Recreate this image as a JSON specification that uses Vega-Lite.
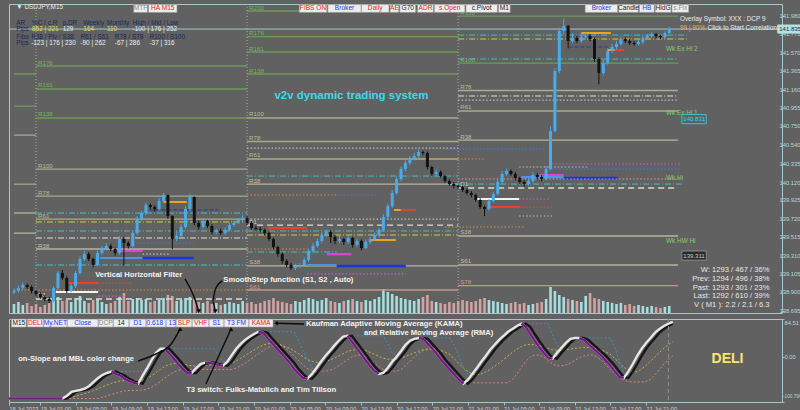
{
"$schema":"https://vega.github.io/schema/vega-lite/v6.json",
"background":"#616161",
"padding":{"left":3,"top":3,"right":0,"bottom":0},
"spacing":1,
"config":{"view":{"stroke":"#a6c8cc","strokeWidth":1},"font":"Liberation Sans","legend":{"disable":true},"axis":{"grid":false,"domain":false,"labelOverlap":false,"labelFont":"Liberation Sans","labelColor":"#c6d6d6","tickColor":"#9cc4c8"}},
"resolve":{"scale":{"x":"independent","y":"independent","color":"independent"}},
"datasets":{
"bars":[
{"t":"2023-07-18T21:30","o":138.9,"hi":138.94,"lo":138.88,"c":138.916,"v":9,"w":-93,"k":-93,"pu":-93,"bl":-93,"yl":-93,"pk":-93},
{"t":"2023-07-18T22:00","o":138.916,"hi":138.98,"lo":138.9,"c":138.95,"v":11,"w":-93,"k":-93,"pu":-93,"bl":-93,"yl":-93,"pk":-93},
{"t":"2023-07-18T22:30","o":138.95,"hi":139.01,"lo":138.93,"c":138.983,"v":8,"w":-93,"k":-93,"pu":-93,"bl":-93,"yl":-93,"pk":-93},
{"t":"2023-07-18T23:00","o":138.983,"hi":139.0,"lo":138.94,"c":138.961,"v":10,"w":-93,"k":-93,"pu":-93,"bl":-93,"yl":-93,"pk":-93},
{"t":"2023-07-18T23:30","o":138.961,"hi":138.98,"lo":138.89,"c":138.916,"v":7,"w":-93,"k":-93,"pu":-93,"bl":-93,"yl":-93,"pk":-93},
{"t":"2023-07-19T00:00","o":138.916,"hi":138.93,"lo":138.86,"c":138.883,"v":9,"w":-93,"k":-93,"pu":-93,"bl":-93,"yl":-93,"pk":-93},
{"t":"2023-07-19T00:30","o":138.883,"hi":138.9,"lo":138.83,"c":138.849,"v":6,"w":-93,"k":-93,"pu":-93,"bl":-93,"yl":-93,"pk":-93},
{"t":"2023-07-19T01:00","o":138.849,"hi":138.87,"lo":138.8,"c":138.827,"v":8,"w":-93,"k":-93,"pu":-93,"bl":-93,"yl":-93,"pk":-93},
{"t":"2023-07-19T01:30","o":138.827,"hi":138.85,"lo":138.78,"c":138.805,"v":10,"w":-93,"k":-93,"pu":-93,"bl":-93,"yl":-93,"pk":-93},
{"t":"2023-07-19T02:00","o":138.805,"hi":138.97,"lo":138.79,"c":138.95,"v":14,"w":-93,"k":-93,"pu":-93,"bl":-93,"yl":-93,"pk":-93},
{"t":"2023-07-19T02:30","o":138.95,"hi":139.14,"lo":138.93,"c":139.117,"v":16,"w":-93,"k":-93,"pu":-93,"bl":-93,"yl":-93,"pk":-93},
{"t":"2023-07-19T03:00","o":139.117,"hi":139.15,"lo":139.04,"c":139.061,"v":12,"w":-93,"k":-93,"pu":-93,"bl":-93,"yl":-93,"pk":-93},
{"t":"2023-07-19T03:30","o":139.061,"hi":139.08,"lo":138.89,"c":138.916,"v":13,"w":-93,"k":-93,"pu":-93,"bl":-93,"yl":-93,"pk":-93},
{"t":"2023-07-19T04:00","o":138.916,"hi":139.0,"lo":138.9,"c":138.972,"v":11,"w":-87,"k":-93,"bl":-87,"yl":-92,"pk":-93},
{"t":"2023-07-19T04:30","o":138.972,"hi":139.14,"lo":138.95,"c":139.117,"v":15,"w":-78,"k":-87,"bl":-78,"yl":-90,"pk":-93},
{"t":"2023-07-19T05:00","o":139.117,"hi":139.3,"lo":139.1,"c":139.273,"v":17,"w":-76,"k":-78,"bl":-76,"yl":-88,"pk":-93},
{"t":"2023-07-19T05:30","o":139.273,"hi":139.36,"lo":139.25,"c":139.328,"v":12,"w":-74,"k":-76,"bl":-74,"yl":-85,"pk":-93},
{"t":"2023-07-19T06:00","o":139.328,"hi":139.35,"lo":139.25,"c":139.273,"v":10,"w":-71,"k":-74,"bl":-71,"yl":-82,"pk":-93},
{"t":"2023-07-19T06:30","o":139.273,"hi":139.29,"lo":139.18,"c":139.206,"v":13,"w":-65,"k":-71,"bl":-65,"yl":-79,"pk":-93},
{"t":"2023-07-19T07:00","o":139.206,"hi":139.37,"lo":139.19,"c":139.34,"v":14,"w":-56,"k":-65,"bl":-56,"yl":-75,"pk":-93},
{"t":"2023-07-19T07:30","o":139.34,"hi":139.42,"lo":139.32,"c":139.395,"v":11,"w":-47,"k":-56,"bl":-47,"yl":-71,"pk":-93},
{"t":"2023-07-19T08:00","o":139.395,"hi":139.45,"lo":139.37,"c":139.418,"v":9,"w":-40,"k":-47,"bl":-40,"yl":-67,"pk":-90},
{"t":"2023-07-19T08:30","o":139.418,"hi":139.44,"lo":139.36,"c":139.384,"v":10,"w":-36,"k":-40,"bl":-36,"yl":-63,"pk":-87},
{"t":"2023-07-19T09:00","o":139.384,"hi":139.4,"lo":139.31,"c":139.34,"v":12,"w":-33,"k":-36,"pu":-33,"bl":-33,"yl":-59,"pk":-84},
{"t":"2023-07-19T09:30","o":139.34,"hi":139.53,"lo":139.32,"c":139.495,"v":16,"w":-38,"k":-33,"pu":-38,"bl":-33,"yl":-56,"pk":-81},
{"t":"2023-07-19T10:00","o":139.495,"hi":139.52,"lo":139.2,"c":139.451,"v":20,"w":-42,"k":-38,"pu":-42,"bl":-33,"yl":-54,"pk":-78},
{"t":"2023-07-19T10:30","o":139.451,"hi":139.47,"lo":139.39,"c":139.418,"v":12,"w":-49,"k":-42,"pu":-49,"bl":-33,"yl":-53,"pk":-76},
{"t":"2023-07-19T11:00","o":139.418,"hi":139.59,"lo":139.4,"c":139.562,"v":14,"w":-54,"k":-49,"pu":-54,"bl":-33,"yl":-53,"pk":-75},
{"t":"2023-07-19T11:30","o":139.562,"hi":139.75,"lo":139.54,"c":139.718,"v":15,"w":-58,"k":-54,"pu":-58,"bl":-33,"yl":-53,"pk":-75},
{"t":"2023-07-19T12:00","o":139.718,"hi":139.81,"lo":139.7,"c":139.785,"v":13,"w":-60,"k":-58,"pu":-60,"bl":-33,"yl":-54,"pk":-75},
{"t":"2023-07-19T12:30","o":139.785,"hi":139.9,"lo":139.76,"c":139.874,"v":14,"w":-42,"k":-60,"bl":-33,"yl":-52,"pk":-74},
{"t":"2023-07-19T13:00","o":139.874,"hi":139.89,"lo":139.83,"c":139.852,"v":11,"w":-25,"k":-42,"bl":-25,"yl":-48,"pk":-72},
{"t":"2023-07-19T13:30","o":139.852,"hi":139.87,"lo":139.8,"c":139.83,"v":12,"w":-7,"k":-25,"bl":-7,"yl":-42,"pk":-68},
{"t":"2023-07-19T14:00","o":139.83,"hi":139.95,"lo":139.81,"c":139.919,"v":13,"w":9,"k":-7,"bl":9,"yl":-35,"pk":-62},
{"t":"2023-07-19T14:30","o":139.919,"hi":140.01,"lo":139.9,"c":139.986,"v":15,"w":18,"k":9,"bl":18,"yl":-28,"pk":-55},
{"t":"2023-07-19T15:00","o":139.986,"hi":139.99,"lo":139.72,"c":139.752,"v":18,"w":18,"k":18,"pu":18,"bl":18,"yl":-21,"pk":-47},
{"t":"2023-07-19T15:30","o":139.752,"hi":139.76,"lo":139.38,"c":139.495,"v":17,"w":7,"k":18,"pu":7,"bl":18,"yl":-17,"pk":-40},
{"t":"2023-07-19T16:00","o":139.495,"hi":139.58,"lo":139.47,"c":139.529,"v":12,"w":-4,"k":7,"pu":-4,"bl":18,"yl":-15,"pk":-34},
{"t":"2023-07-19T16:30","o":139.529,"hi":139.66,"lo":139.51,"c":139.629,"v":13,"w":-16,"k":-4,"pu":-16,"bl":18,"yl":-15,"pk":-30},
{"t":"2023-07-19T17:00","o":139.629,"hi":139.86,"lo":139.61,"c":139.83,"v":15,"w":-27,"k":-16,"pu":-27,"bl":18,"yl":-16,"pk":-28},
{"t":"2023-07-19T17:30","o":139.83,"hi":140.0,"lo":139.81,"c":139.963,"v":16,"w":-36,"k":-27,"pu":-36,"bl":18,"yl":-18,"pk":-28},
{"t":"2023-07-19T18:00","o":139.963,"hi":139.97,"lo":139.65,"c":139.674,"v":14,"w":-36,"k":-36,"pu":-36,"bl":18,"yl":-20,"pk":-28},
{"t":"2023-07-19T18:30","o":139.674,"hi":139.7,"lo":139.6,"c":139.629,"v":11,"w":-25,"k":-36,"bl":18,"yl":-21,"pk":-28},
{"t":"2023-07-19T19:00","o":139.629,"hi":139.72,"lo":139.61,"c":139.696,"v":10,"w":-16,"k":-25,"bl":18,"yl":-20,"pk":-28},
{"t":"2023-07-19T19:30","o":139.696,"hi":139.71,"lo":139.62,"c":139.64,"v":12,"w":-13,"k":-16,"pu":-13,"bl":18,"yl":-19,"pk":-28},
{"t":"2023-07-19T20:00","o":139.64,"hi":139.66,"lo":139.55,"c":139.573,"v":9,"w":-13,"k":-13,"pu":-13,"bl":18,"yl":-18,"pk":-28},
{"t":"2023-07-19T20:30","o":139.573,"hi":139.61,"lo":139.55,"c":139.585,"v":10,"w":-16,"k":-13,"pu":-16,"bl":18,"yl":-18,"pk":-28},
{"t":"2023-07-19T21:00","o":139.585,"hi":139.61,"lo":139.54,"c":139.562,"v":8,"w":-18,"k":-16,"pu":-18,"bl":5,"yl":-18,"pk":-28},
{"t":"2023-07-19T21:30","o":139.562,"hi":139.62,"lo":139.54,"c":139.596,"v":9,"w":-20,"k":-18,"pu":-20,"bl":-10,"yl":-18,"pk":-28},
{"t":"2023-07-19T22:00","o":139.596,"hi":139.68,"lo":139.58,"c":139.651,"v":11,"w":-11,"k":-20,"bl":-11,"yl":-17,"pk":-28},
{"t":"2023-07-19T22:30","o":139.651,"hi":139.7,"lo":139.63,"c":139.674,"v":10,"w":4,"k":-11,"bl":4,"yl":-14,"pk":-28},
{"t":"2023-07-19T23:00","o":139.674,"hi":139.73,"lo":139.66,"c":139.707,"v":9,"w":18,"k":4,"bl":18,"yl":-9,"pk":-25},
{"t":"2023-07-19T23:30","o":139.707,"hi":139.76,"lo":139.69,"c":139.729,"v":12,"w":29,"k":18,"bl":29,"yl":-3,"pk":-20},
{"t":"2023-07-20T00:00","o":139.729,"hi":139.75,"lo":139.65,"c":139.674,"v":10,"w":38,"k":29,"bl":38,"yl":3,"pk":-14},
{"t":"2023-07-20T00:30","o":139.674,"hi":139.69,"lo":139.6,"c":139.618,"v":11,"w":45,"k":38,"bl":45,"yl":9,"pk":-7},
{"t":"2023-07-20T01:00","o":139.618,"hi":139.64,"lo":139.59,"c":139.607,"v":9,"w":51,"k":45,"bl":51,"yl":15,"pk":0},
{"t":"2023-07-20T01:30","o":139.607,"hi":139.63,"lo":139.57,"c":139.596,"v":10,"w":56,"k":51,"pu":56,"bl":56,"yl":21,"pk":7},
{"t":"2023-07-20T02:00","o":139.596,"hi":139.61,"lo":139.54,"c":139.562,"v":12,"w":54,"k":56,"pu":54,"bl":56,"yl":26,"pk":14},
{"t":"2023-07-20T02:30","o":139.562,"hi":139.58,"lo":139.47,"c":139.495,"v":13,"w":42,"k":54,"pu":42,"bl":56,"yl":29,"pk":20},
{"t":"2023-07-20T03:00","o":139.495,"hi":139.51,"lo":139.38,"c":139.406,"v":15,"w":31,"k":42,"pu":31,"bl":56,"yl":30,"pk":24},
{"t":"2023-07-20T03:30","o":139.406,"hi":139.42,"lo":139.3,"c":139.328,"v":12,"w":20,"k":31,"pu":20,"bl":56,"yl":29,"pk":26},
{"t":"2023-07-20T04:00","o":139.328,"hi":139.35,"lo":139.22,"c":139.25,"v":11,"w":9,"k":20,"pu":9,"bl":56,"yl":27,"pk":26},
{"t":"2023-07-20T04:30","o":139.25,"hi":139.27,"lo":139.18,"c":139.206,"v":10,"w":-2,"k":9,"pu":-2,"bl":56,"yl":23,"pk":20},
{"t":"2023-07-20T05:00","o":139.206,"hi":139.23,"lo":139.15,"c":139.172,"v":9,"w":-13,"k":-2,"pu":-13,"bl":56,"yl":19,"pk":12},
{"t":"2023-07-20T05:30","o":139.172,"hi":139.22,"lo":139.15,"c":139.195,"v":12,"w":-27,"k":-13,"pu":-27,"bl":56,"yl":13,"pk":2},
{"t":"2023-07-20T06:00","o":139.195,"hi":139.23,"lo":139.17,"c":139.206,"v":11,"w":-38,"k":-27,"pu":-38,"bl":35,"yl":7,"pk":-8},
{"t":"2023-07-20T06:30","o":139.206,"hi":139.29,"lo":139.19,"c":139.262,"v":13,"w":-47,"k":-38,"pu":-47,"bl":15,"yl":0,"pk":-18},
{"t":"2023-07-20T07:00","o":139.262,"hi":139.39,"lo":139.24,"c":139.362,"v":15,"w":-49,"k":-47,"pu":-49,"bl":-5,"yl":-6,"pk":-26},
{"t":"2023-07-20T07:30","o":139.362,"hi":139.45,"lo":139.34,"c":139.418,"v":14,"w":-38,"k":-49,"bl":-25,"yl":-10,"pk":-30},
{"t":"2023-07-20T08:00","o":139.418,"hi":139.5,"lo":139.4,"c":139.473,"v":12,"w":-25,"k":-38,"bl":-25,"yl":-12,"pk":-32},
{"t":"2023-07-20T08:30","o":139.473,"hi":139.57,"lo":139.45,"c":139.54,"v":13,"w":-11,"k":-25,"bl":-11,"yl":-12,"pk":-32},
{"t":"2023-07-20T09:00","o":139.54,"hi":139.6,"lo":139.52,"c":139.573,"v":15,"w":2,"k":-11,"bl":2,"yl":-10,"pk":-32},
{"t":"2023-07-20T09:30","o":139.573,"hi":139.59,"lo":139.45,"c":139.518,"v":12,"w":13,"k":2,"bl":13,"yl":-7,"pk":-30},
{"t":"2023-07-20T10:00","o":139.518,"hi":139.54,"lo":139.44,"c":139.473,"v":11,"w":25,"k":13,"bl":25,"yl":-3,"pk":-26},
{"t":"2023-07-20T10:30","o":139.473,"hi":139.53,"lo":139.45,"c":139.495,"v":10,"w":36,"k":25,"bl":36,"yl":2,"pk":-20},
{"t":"2023-07-20T11:00","o":139.495,"hi":139.51,"lo":139.43,"c":139.462,"v":12,"w":45,"k":36,"bl":45,"yl":7,"pk":-13},
{"t":"2023-07-20T11:30","o":139.462,"hi":139.54,"lo":139.44,"c":139.507,"v":13,"w":47,"k":45,"pu":47,"bl":47,"yl":12,"pk":-6},
{"t":"2023-07-20T12:00","o":139.507,"hi":139.52,"lo":139.4,"c":139.429,"v":14,"w":33,"k":47,"pu":33,"bl":47,"yl":15,"pk":0},
{"t":"2023-07-20T12:30","o":139.429,"hi":139.5,"lo":139.41,"c":139.473,"v":12,"w":20,"k":33,"pu":20,"bl":47,"yl":16,"pk":4},
{"t":"2023-07-20T13:00","o":139.473,"hi":139.49,"lo":139.37,"c":139.395,"v":11,"w":7,"k":20,"pu":7,"bl":47,"yl":16,"pk":4},
{"t":"2023-07-20T13:30","o":139.395,"hi":139.49,"lo":139.38,"c":139.462,"v":13,"w":-7,"k":7,"pu":-7,"bl":47,"yl":14,"pk":0},
{"t":"2023-07-20T14:00","o":139.462,"hi":139.52,"lo":139.44,"c":139.495,"v":12,"w":-20,"k":-7,"pu":-20,"bl":47,"yl":10,"pk":-6},
{"t":"2023-07-20T14:30","o":139.495,"hi":139.57,"lo":139.48,"c":139.54,"v":14,"w":-31,"k":-20,"pu":-31,"bl":47,"yl":6,"pk":-14},
{"t":"2023-07-20T15:00","o":139.54,"hi":139.62,"lo":139.52,"c":139.596,"v":16,"w":-38,"k":-31,"pu":-38,"bl":47,"yl":1,"pk":-22},
{"t":"2023-07-20T15:30","o":139.596,"hi":139.77,"lo":139.58,"c":139.741,"v":24,"w":-36,"k":-38,"bl":47,"yl":-3,"pk":-28},
{"t":"2023-07-20T16:00","o":139.741,"hi":139.89,"lo":139.72,"c":139.863,"v":21,"w":-25,"k":-36,"bl":30,"yl":-5,"pk":-32},
{"t":"2023-07-20T16:30","o":139.863,"hi":140.04,"lo":139.84,"c":140.008,"v":19,"w":-11,"k":-25,"bl":10,"yl":-6,"pk":-32},
{"t":"2023-07-20T17:00","o":140.008,"hi":140.19,"lo":139.99,"c":140.164,"v":17,"w":0,"k":-11,"bl":0,"yl":-5,"pk":-32},
{"t":"2023-07-20T17:30","o":140.164,"hi":140.3,"lo":140.14,"c":140.275,"v":15,"w":13,"k":0,"bl":13,"yl":-3,"pk":-28},
{"t":"2023-07-20T18:00","o":140.275,"hi":140.37,"lo":140.25,"c":140.342,"v":14,"w":27,"k":13,"bl":27,"yl":1,"pk":-20},
{"t":"2023-07-20T18:30","o":140.342,"hi":140.42,"lo":140.32,"c":140.387,"v":13,"w":36,"k":27,"bl":36,"yl":5,"pk":-10},
{"t":"2023-07-20T19:00","o":140.387,"hi":140.45,"lo":140.37,"c":140.42,"v":12,"w":40,"k":36,"bl":40,"yl":9,"pk":0},
{"t":"2023-07-20T19:30","o":140.42,"hi":140.49,"lo":140.4,"c":140.465,"v":14,"w":42,"k":40,"pu":42,"bl":42,"yl":13,"pk":8},
{"t":"2023-07-20T20:00","o":140.465,"hi":140.48,"lo":140.43,"c":140.454,"v":16,"w":40,"k":42,"pu":40,"bl":42,"yl":16,"pk":14},
{"t":"2023-07-20T20:30","o":140.454,"hi":140.47,"lo":140.27,"c":140.298,"v":18,"w":29,"k":40,"pu":29,"bl":42,"yl":18,"pk":16},
{"t":"2023-07-20T21:00","o":140.298,"hi":140.31,"lo":140.2,"c":140.22,"v":12,"w":18,"k":29,"pu":18,"bl":42,"yl":18,"pk":16},
{"t":"2023-07-20T21:30","o":140.22,"hi":140.27,"lo":140.2,"c":140.242,"v":11,"w":7,"k":18,"pu":7,"bl":42,"yl":17,"pk":12},
{"t":"2023-07-20T22:00","o":140.242,"hi":140.26,"lo":140.18,"c":140.197,"v":10,"w":-7,"k":7,"pu":-7,"bl":42,"yl":14,"pk":4},
{"t":"2023-07-20T22:30","o":140.197,"hi":140.21,"lo":140.12,"c":140.142,"v":9,"w":-18,"k":-7,"pu":-18,"bl":42,"yl":10,"pk":-6},
{"t":"2023-07-20T23:00","o":140.142,"hi":140.16,"lo":140.09,"c":140.108,"v":11,"w":-29,"k":-18,"pu":-29,"bl":42,"yl":5,"pk":-18},
{"t":"2023-07-20T23:30","o":140.108,"hi":140.13,"lo":140.06,"c":140.086,"v":10,"w":-40,"k":-29,"pu":-40,"bl":25,"yl":-5,"pk":-30},
{"t":"2023-07-21T00:00","o":140.086,"hi":140.1,"lo":140.05,"c":140.075,"v":12,"w":-51,"k":-40,"pu":-51,"bl":0,"yl":-15,"pk":-40},
{"t":"2023-07-21T00:30","o":140.075,"hi":140.09,"lo":140.02,"c":140.041,"v":13,"w":-60,"k":-51,"pu":-60,"bl":-25,"yl":-25,"pk":-48},
{"t":"2023-07-21T01:00","o":140.041,"hi":140.06,"lo":139.99,"c":140.008,"v":12,"w":-51,"k":-60,"bl":-40,"yl":-33,"pk":-55},
{"t":"2023-07-21T01:30","o":140.008,"hi":140.03,"lo":139.96,"c":139.986,"v":11,"w":-38,"k":-51,"bl":-38,"yl":-38,"pk":-58},
{"t":"2023-07-21T02:00","o":139.986,"hi":140.0,"lo":139.91,"c":139.93,"v":12,"w":-25,"k":-38,"bl":-25,"yl":-40,"pk":-58},
{"t":"2023-07-21T02:30","o":139.93,"hi":139.95,"lo":139.83,"c":139.852,"v":14,"w":-11,"k":-25,"bl":-11,"yl":-38,"pk":-58},
{"t":"2023-07-21T03:00","o":139.852,"hi":139.87,"lo":139.75,"c":139.83,"v":15,"w":2,"k":-11,"bl":2,"yl":-34,"pk":-58},
{"t":"2023-07-21T03:30","o":139.83,"hi":139.94,"lo":139.81,"c":139.919,"v":13,"w":16,"k":2,"bl":16,"yl":-28,"pk":-58},
{"t":"2023-07-21T04:00","o":139.919,"hi":140.02,"lo":139.9,"c":139.997,"v":12,"w":27,"k":16,"bl":27,"yl":-21,"pk":-58},
{"t":"2023-07-21T04:30","o":139.997,"hi":140.16,"lo":139.98,"c":140.131,"v":11,"w":38,"k":27,"bl":38,"yl":-14,"pk":-58},
{"t":"2023-07-21T05:00","o":140.131,"hi":140.25,"lo":140.11,"c":140.22,"v":10,"w":47,"k":38,"bl":47,"yl":-6,"pk":-58},
{"t":"2023-07-21T05:30","o":140.22,"hi":140.28,"lo":140.2,"c":140.253,"v":9,"w":56,"k":47,"bl":56,"yl":2,"pk":-58},
{"t":"2023-07-21T06:00","o":140.253,"hi":140.27,"lo":140.2,"c":140.22,"v":10,"w":62,"k":56,"bl":62,"yl":10,"pk":-50},
{"t":"2023-07-21T06:30","o":140.22,"hi":140.24,"lo":140.15,"c":140.175,"v":11,"w":69,"k":62,"bl":69,"yl":17,"pk":-38},
{"t":"2023-07-21T07:00","o":140.175,"hi":140.19,"lo":140.11,"c":140.131,"v":9,"w":74,"k":69,"pu":74,"bl":74,"yl":23,"pk":-24},
{"t":"2023-07-21T07:30","o":140.131,"hi":140.15,"lo":140.08,"c":140.108,"v":10,"w":67,"k":74,"pu":67,"bl":74,"yl":27,"pk":-10},
{"t":"2023-07-21T08:00","o":140.108,"hi":140.17,"lo":140.09,"c":140.142,"v":8,"w":51,"k":67,"pu":51,"bl":74,"yl":28,"pk":0},
{"t":"2023-07-21T08:30","o":140.142,"hi":140.24,"lo":140.12,"c":140.209,"v":9,"w":36,"k":51,"pu":36,"bl":74,"yl":27,"pk":4},
{"t":"2023-07-21T09:00","o":140.209,"hi":140.23,"lo":140.16,"c":140.186,"v":10,"w":22,"k":36,"pu":22,"bl":74,"yl":25,"pk":4},
{"t":"2023-07-21T09:30","o":140.186,"hi":140.21,"lo":140.14,"c":140.164,"v":11,"w":9,"k":22,"pu":9,"bl":74,"yl":22,"pk":0},
{"t":"2023-07-21T10:00","o":140.164,"hi":140.31,"lo":140.15,"c":140.275,"v":14,"w":-2,"k":9,"pu":-2,"bl":74,"yl":19,"pk":-8},
{"t":"2023-07-21T10:30","o":140.275,"hi":140.75,"lo":140.26,"c":140.699,"v":26,"w":-4,"k":-2,"pu":-4,"bl":50,"yl":16,"pk":-16},
{"t":"2023-07-21T11:00","o":140.699,"hi":141.4,"lo":140.68,"c":141.367,"v":22,"w":9,"k":-4,"bl":25,"yl":15,"pk":-20},
{"t":"2023-07-21T11:30","o":141.367,"hi":141.85,"lo":141.34,"c":141.813,"v":18,"w":20,"k":9,"bl":20,"yl":15,"pk":-20},
{"t":"2023-07-21T12:00","o":141.813,"hi":141.95,"lo":141.78,"c":141.869,"v":16,"w":31,"k":20,"bl":31,"yl":16,"pk":-18},
{"t":"2023-07-21T12:30","o":141.869,"hi":141.88,"lo":141.62,"c":141.701,"v":14,"w":40,"k":31,"bl":40,"yl":17,"pk":-14},
{"t":"2023-07-21T13:00","o":141.701,"hi":141.79,"lo":141.68,"c":141.735,"v":13,"w":42,"k":40,"bl":42,"yl":19,"pk":-8},
{"t":"2023-07-21T13:30","o":141.735,"hi":141.76,"lo":141.68,"c":141.701,"v":12,"w":42,"k":42,"pu":42,"bl":42,"yl":20,"pk":-2},
{"t":"2023-07-21T14:00","o":141.701,"hi":141.79,"lo":141.68,"c":141.746,"v":11,"w":38,"k":42,"pu":38,"bl":42,"yl":21,"pk":2},
{"t":"2023-07-21T14:30","o":141.746,"hi":141.8,"lo":141.72,"c":141.757,"v":17,"w":29,"k":38,"pu":29,"bl":42,"yl":21,"pk":4},
{"t":"2023-07-21T15:00","o":141.757,"hi":141.78,"lo":141.7,"c":141.724,"v":20,"w":20,"k":29,"pu":20,"bl":42,"yl":20,"pk":4},
{"t":"2023-07-21T15:30","o":141.724,"hi":141.74,"lo":141.47,"c":141.501,"v":15,"w":11,"k":20,"pu":11,"bl":42,"yl":18,"pk":0},
{"t":"2023-07-21T16:00","o":141.501,"hi":141.52,"lo":141.22,"c":141.345,"v":14,"w":2,"k":11,"pu":2,"bl":42,"yl":15,"pk":-8},
{"t":"2023-07-21T16:30","o":141.345,"hi":141.49,"lo":141.32,"c":141.456,"v":12,"w":-9,"k":2,"pu":-9,"bl":42,"yl":11,"pk":-18},
{"t":"2023-07-21T17:00","o":141.456,"hi":141.62,"lo":141.44,"c":141.59,"v":11,"w":-20,"k":-9,"pu":-20,"bl":42,"yl":5,"pk":-28},
{"t":"2023-07-21T17:30","o":141.59,"hi":141.67,"lo":141.57,"c":141.635,"v":10,"w":-33,"k":-20,"pu":-33,"bl":20,"yl":-4,"pk":-38},
{"t":"2023-07-21T18:00","o":141.635,"hi":141.7,"lo":141.61,"c":141.668,"v":9,"w":-45,"k":-33,"pu":-45,"bl":-10,"yl":-14,"pk":-46},
{"t":"2023-07-21T18:30","o":141.668,"hi":141.75,"lo":141.65,"c":141.724,"v":10,"w":-47,"k":-45,"pu":-47,"bl":-40,"yl":-23,"pk":-52},
{"t":"2023-07-21T19:00","o":141.724,"hi":141.74,"lo":141.68,"c":141.701,"v":8,"w":-33,"k":-47,"bl":-33,"yl":-30,"pk":-55},
{"t":"2023-07-21T19:30","o":141.701,"hi":141.72,"lo":141.66,"c":141.679,"v":9,"w":-16,"k":-33,"bl":-16,"yl":-34,"pk":-56},
{"t":"2023-07-21T20:00","o":141.679,"hi":141.7,"lo":141.65,"c":141.668,"v":7,"w":2,"k":-16,"bl":2,"yl":-33,"pk":-56},
{"t":"2023-07-21T20:30","o":141.668,"hi":141.72,"lo":141.65,"c":141.69,"v":8,"w":18,"k":2,"bl":18,"yl":-27,"pk":-56},
{"t":"2023-07-21T21:00","o":141.69,"hi":141.76,"lo":141.67,"c":141.735,"v":7,"w":31,"k":18,"bl":31,"yl":-19,"pk":-55},
{"t":"2023-07-21T21:30","o":141.735,"hi":141.78,"lo":141.72,"c":141.757,"v":6,"w":42,"k":31,"bl":42,"yl":-10,"pk":-50},
{"t":"2023-07-21T22:00","o":141.757,"hi":141.8,"lo":141.74,"c":141.779,"v":7,"w":54,"k":42,"bl":54,"yl":0,"pk":-40},
{"t":"2023-07-21T22:30","o":141.779,"hi":141.79,"lo":141.73,"c":141.757,"v":6,"w":62,"k":54,"bl":62,"yl":10,"pk":-28},
{"t":"2023-07-21T23:00","o":141.757,"hi":141.77,"lo":141.72,"c":141.746,"v":5,"w":69,"k":62,"bl":69,"yl":19,"pk":-16},
{"t":"2023-07-21T23:30","o":141.746,"hi":141.81,"lo":141.73,"c":141.791,"v":6,"w":74,"k":69,"bl":74,"yl":27,"pk":-6},
{"t":"2023-07-22T00:00","o":141.791,"hi":141.86,"lo":141.78,"c":141.835,"v":7,"w":78,"k":74,"bl":78,"yl":34,"pk":2}
],
"days":[{"t":"2023-07-19T00:00"},{"t":"2023-07-20T00:00"},{"t":"2023-07-21T00:00"}],
"pax":[{"t":"2023-07-22T12:15","p":141.98},{"t":"2023-07-22T12:15","p":141.775},{"t":"2023-07-22T12:15","p":141.57},{"t":"2023-07-22T12:15","p":141.365},{"t":"2023-07-22T12:15","p":141.16},{"t":"2023-07-22T12:15","p":140.955},{"t":"2023-07-22T12:15","p":140.75},{"t":"2023-07-22T12:15","p":140.54},{"t":"2023-07-22T12:15","p":140.335},{"t":"2023-07-22T12:15","p":140.12},{"t":"2023-07-22T12:15","p":139.925},{"t":"2023-07-22T12:15","p":139.72},{"t":"2023-07-22T12:15","p":139.515},{"t":"2023-07-22T12:15","p":139.31},{"t":"2023-07-22T12:15","p":139.105},{"t":"2023-07-22T12:15","p":138.9},{"t":"2023-07-22T12:15","p":138.695}],
"oax":[{"t":"2023-07-22T12:15","p":84.51,"s":"84.51","b":"top"},{"t":"2023-07-22T12:15","p":0,"s":"0.00","b":"middle"},{"t":"2023-07-22T12:15","p":-100.796,"s":"-100.796","b":"bottom"}],
"lv":[
{"a":"2023-07-18T21:30","b":"2023-07-19T00:00","p":141.334,"n":"","k":"g"},
{"a":"2023-07-18T21:30","b":"2023-07-19T00:00","p":140.977,"n":"","k":"g"},
{"a":"2023-07-18T21:30","b":"2023-07-19T00:00","p":140.654,"n":"","k":"r"},
{"a":"2023-07-18T21:30","b":"2023-07-19T00:00","p":140.108,"n":"","k":"r"},
{"a":"2023-07-18T21:30","b":"2023-07-19T00:00","p":139.785,"n":"","k":"r"},
{"a":"2023-07-18T21:30","b":"2023-07-19T00:00","p":139.562,"n":"","k":"s"},
{"a":"2023-07-19T00:00","b":"2023-07-20T00:00","p":141.423,"n":"R176","k":"g"},
{"a":"2023-07-19T00:00","b":"2023-07-20T00:00","p":141.167,"n":"R161","k":"g"},
{"a":"2023-07-19T00:00","b":"2023-07-20T00:00","p":140.844,"n":"R138","k":"g"},
{"a":"2023-07-19T00:00","b":"2023-07-20T00:00","p":140.275,"n":"R100","k":"r"},
{"a":"2023-07-19T00:00","b":"2023-07-20T00:00","p":139.974,"n":"R78","k":"r"},
{"a":"2023-07-19T00:00","b":"2023-07-20T00:00","p":139.718,"n":"R61","k":"r"},
{"a":"2023-07-19T00:00","b":"2023-07-20T00:00","p":139.384,"n":"R38","k":"s"},
{"a":"2023-07-19T00:00","b":"2023-07-20T00:00","p":138.827,"n":"D1","k":"d"},
{"a":"2023-07-20T00:00","b":"2023-07-21T00:00","p":142.036,"n":"R200","k":"g"},
{"a":"2023-07-20T00:00","b":"2023-07-21T00:00","p":141.75,"n":"R176","k":"g"},
{"a":"2023-07-20T00:00","b":"2023-07-21T00:00","p":141.579,"n":"R161","k":"g"},
{"a":"2023-07-20T00:00","b":"2023-07-21T00:00","p":141.334,"n":"R138","k":"g"},
{"a":"2023-07-20T00:00","b":"2023-07-21T00:00","p":140.844,"n":"R100","k":"r"},
{"a":"2023-07-20T00:00","b":"2023-07-21T00:00","p":140.582,"n":"R78","k":"r"},
{"a":"2023-07-20T00:00","b":"2023-07-21T00:00","p":140.387,"n":"R61","k":"r"},
{"a":"2023-07-20T00:00","b":"2023-07-21T00:00","p":140.108,"n":"R38","k":"s"},
{"a":"2023-07-20T00:00","b":"2023-07-21T00:00","p":139.651,"n":"D1","k":"d"},
{"a":"2023-07-20T00:00","b":"2023-07-21T00:00","p":139.195,"n":"S38","k":"s"},
{"a":"2023-07-20T00:00","b":"2023-07-21T00:00","p":138.927,"n":"S61","k":"sp"},
{"a":"2023-07-21T00:00","b":"2023-07-22T01:00","p":141.98,"n":"R138","k":"g"},
{"a":"2023-07-21T00:00","b":"2023-07-22T01:00","p":141.456,"n":"R100","k":"g"},
{"a":"2023-07-21T00:00","b":"2023-07-22T01:00","p":141.15,"n":"R78","k":"r"},
{"a":"2023-07-21T00:00","b":"2023-07-22T01:00","p":140.922,"n":"R61","k":"r"},
{"a":"2023-07-21T00:00","b":"2023-07-22T01:00","p":140.598,"n":"R38","k":"s"},
{"a":"2023-07-21T00:00","b":"2023-07-22T01:00","p":140.064,"n":"D1","k":"d"},
{"a":"2023-07-21T00:00","b":"2023-07-22T01:00","p":139.529,"n":"S38","k":"s"},
{"a":"2023-07-21T00:00","b":"2023-07-22T01:00","p":139.206,"n":"S61","k":"s"},
{"a":"2023-07-21T00:00","b":"2023-07-22T01:00","p":138.977,"n":"S78","k":"sp"}
],
"dl":[
{"a":"2023-07-21T00:00","b":"2023-07-22T02:00","p":141.768,"k":"td"},
{"a":"2023-07-21T00:00","b":"2023-07-22T02:00","p":141.724,"k":"yd"},
{"a":"2023-07-21T00:00","b":"2023-07-22T01:00","p":141.501,"k":"td"},
{"a":"2023-07-21T00:00","b":"2023-07-22T01:00","p":141.089,"k":"wd"},
{"a":"2023-07-21T00:00","b":"2023-07-22T01:00","p":141.044,"k":"gd"},
{"a":"2023-07-20T22:30","b":"2023-07-21T09:45","p":140.498,"k":"bd"},
{"a":"2023-07-21T10:18","b":"2023-07-22T01:26","p":140.331,"k":"pd"},
{"a":"2023-07-21T06:56","b":"2023-07-21T14:47","p":140.298,"k":"gd"},
{"a":"2023-07-21T10:18","b":"2023-07-22T01:26","p":140.275,"k":"bd"},
{"a":"2023-07-21T09:10","b":"2023-07-21T12:00","p":140.208,"k":"ms"},
{"a":"2023-07-21T07:09","b":"2023-07-21T12:00","p":140.186,"k":"ls"},
{"a":"2023-07-21T12:00","b":"2023-07-21T18:08","p":140.175,"k":"bs"},
{"a":"2023-07-21T00:00","b":"2023-07-22T01:26","p":140.164,"k":"sd"},
{"a":"2023-07-20T22:30","b":"2023-07-22T01:26","p":140.108,"k":"td"},
{"a":"2023-07-21T01:53","b":"2023-07-21T06:56","p":139.941,"k":"ws"},
{"a":"2023-07-21T06:56","b":"2023-07-21T10:18","p":139.941,"k":"pd"},
{"a":"2023-07-21T03:34","b":"2023-07-21T06:56","p":139.852,"k":"rs"},
{"a":"2023-07-21T06:56","b":"2023-07-21T10:51","p":139.852,"k":"rd"},
{"a":"2023-07-21T06:56","b":"2023-07-21T10:51","p":139.752,"k":"gd"},
{"a":"2023-07-20T22:30","b":"2023-07-21T07:29","p":139.629,"k":"od"},
{"a":"2023-07-21T14:00","b":"2023-07-21T17:22","p":141.79,"k":"os"},
{"a":"2023-07-21T12:32","b":"2023-07-21T17:01","p":141.635,"k":"nd"},
{"a":"2023-07-21T17:01","b":"2023-07-21T17:48","p":141.601,"k":"os"},
{"a":"2023-07-21T17:48","b":"2023-07-21T18:54","p":141.601,"k":"rs"},
{"a":"2023-07-20T19:10","b":"2023-07-21T03:00","p":140.387,"k":"od"},
{"a":"2023-07-20T00:00","b":"2023-07-21T00:00","p":140.197,"k":"td"},
{"a":"2023-07-20T00:00","b":"2023-07-20T10:11","p":139.986,"k":"od"},
{"a":"2023-07-20T10:11","b":"2023-07-20T14:40","p":139.986,"k":"bd"},
{"a":"2023-07-20T00:00","b":"2023-07-21T00:00","p":140.509,"k":"gd"},
{"a":"2023-07-20T00:00","b":"2023-07-21T00:00","p":139.718,"k":"gd"},
{"a":"2023-07-20T00:00","b":"2023-07-21T00:00","p":139.585,"k":"td"},
{"a":"2023-07-20T00:00","b":"2023-07-21T00:00","p":139.54,"k":"yd"},
{"a":"2023-07-20T02:20","b":"2023-07-20T06:50","p":139.618,"k":"rs"},
{"a":"2023-07-20T06:50","b":"2023-07-20T10:11","p":139.206,"k":"ls"},
{"a":"2023-07-20T10:11","b":"2023-07-20T18:03","p":139.195,"k":"bs"},
{"a":"2023-07-20T09:04","b":"2023-07-20T11:52","p":139.328,"k":"ms"},
{"a":"2023-07-20T14:07","b":"2023-07-20T16:55","p":139.484,"k":"os"},
{"a":"2023-07-20T16:42","b":"2023-07-20T17:29","p":139.819,"k":"os"},
{"a":"2023-07-20T17:29","b":"2023-07-20T19:10","p":139.819,"k":"rs"},
{"a":"2023-07-20T00:00","b":"2023-07-20T06:50","p":139.384,"k":"od"},
{"a":"2023-07-20T00:00","b":"2023-07-20T10:11","p":139.351,"k":"td"},
{"a":"2023-07-20T06:50","b":"2023-07-20T18:03","p":139.106,"k":"pd"},
{"a":"2023-07-19T14:34","b":"2023-07-19T17:09","p":139.908,"k":"os"},
{"a":"2023-07-19T00:00","b":"2023-07-20T00:00","p":139.785,"k":"td"},
{"a":"2023-07-19T12:54","b":"2023-07-19T20:44","p":139.819,"k":"nd"},
{"a":"2023-07-19T00:00","b":"2023-07-20T00:00","p":139.685,"k":"yd"},
{"a":"2023-07-19T00:00","b":"2023-07-20T00:00","p":139.585,"k":"td"},
{"a":"2023-07-19T00:00","b":"2023-07-20T00:00","p":139.507,"k":"wd"},
{"a":"2023-07-19T10:39","b":"2023-07-19T17:56","p":139.451,"k":"bd"},
{"a":"2023-07-19T08:58","b":"2023-07-19T12:07","p":139.362,"k":"ms"},
{"a":"2023-07-19T12:07","b":"2023-07-19T15:08","p":139.328,"k":"gd"},
{"a":"2023-07-19T07:17","b":"2023-07-19T12:07","p":139.284,"k":"ls"},
{"a":"2023-07-19T12:07","b":"2023-07-19T17:56","p":139.284,"k":"bs"},
{"a":"2023-07-19T00:00","b":"2023-07-20T00:00","p":139.206,"k":"td"},
{"a":"2023-07-18T21:30","b":"2023-07-20T00:00","p":138.927,"k":"od"},
{"a":"2023-07-19T03:22","b":"2023-07-19T07:04","p":139.005,"k":"rs"},
{"a":"2023-07-19T07:04","b":"2023-07-19T10:52","p":139.005,"k":"rd"},
{"a":"2023-07-19T02:15","b":"2023-07-19T07:04","p":138.905,"k":"ws"},
{"a":"2023-07-19T07:04","b":"2023-07-19T10:05","p":138.86,"k":"pd"}
],
"bid":[{"p":141.835}],
"tx":[
{"t":"2023-07-18T21:46","p":142.08,"s":"▼ USDJPY,M15","k":"wt"},
{"t":"2023-07-18T21:46","p":141.902,"s":"AR","k":"nv"},
{"t":"2023-07-18T23:33","p":141.902,"s":"%C / c.R","k":"nv"},
{"t":"2023-07-19T03:02","p":141.902,"s":"p.DR","k":"nv"},
{"t":"2023-07-19T05:23","p":141.902,"s":"Weekly","k":"nv"},
{"t":"2023-07-19T08:04","p":141.902,"s":"Monthly","k":"nv"},
{"t":"2023-07-19T10:59","p":141.902,"s":"High / Mid / Low","k":"nv"},
{"t":"2023-07-18T21:46","p":141.835,"s":"Pips","k":"nv"},
{"t":"2023-07-18T23:33","p":141.835,"s":"852 | 221","k":"yw"},
{"t":"2023-07-19T03:02","p":141.835,"s":"129","k":"wt"},
{"t":"2023-07-19T05:23","p":141.835,"s":"164","k":"yw"},
{"t":"2023-07-19T08:04","p":141.835,"s":"110","k":"yw"},
{"t":"2023-07-19T10:59","p":141.835,"s":"-100 | 176 | 252","k":"wt"},
{"t":"2023-07-18T21:46","p":141.746,"s":"Fibo","k":"nv"},
{"t":"2023-07-18T23:27","p":141.746,"s":"R38 / Piv / S38","k":"nv"},
{"t":"2023-07-19T05:03","p":141.746,"s":"R61 / S61","k":"nv"},
{"t":"2023-07-19T08:58","p":141.746,"s":"R78 / S78","k":"nv"},
{"t":"2023-07-19T12:54","p":141.746,"s":"R100 / S100","k":"nv"},
{"t":"2023-07-18T21:46","p":141.679,"s":"Pips","k":"nv"},
{"t":"2023-07-18T23:27","p":141.679,"s":"-123 | 176 | 230","k":"wt"},
{"t":"2023-07-19T05:03","p":141.679,"s":"-90 | 262","k":"wt"},
{"t":"2023-07-19T08:58","p":141.679,"s":"-67 | 286","k":"wt"},
{"t":"2023-07-19T12:54","p":141.679,"s":"-37 | 316","k":"wt"},
{"t":"2023-07-22T01:13","p":141.946,"s":"Overlay Symbol: XXX : DCP 9","k":"wt"},
{"t":"2023-07-22T01:13","p":141.846,"s":"99 | 90%","k":"og"},
{"t":"2023-07-22T04:21","p":141.846,"s":"Click to Start Correlation","k":"wt"},
{"t":"2023-07-21T23:38","p":141.612,"s":"Wk Ex Hi 2","k":"gr"},
{"t":"2023-07-21T23:38","p":140.899,"s":"Wk Ex Hi 1","k":"gr"},
{"t":"2023-07-21T23:38","p":140.175,"s":"Wk Hi","k":"gr"},
{"t":"2023-07-21T23:38","p":139.473,"s":"Wk HW Hi","k":"gr"}
],
"st":[
{"t":"2023-07-22T11:24","p":139.15,"s":"W: 1293 / 467 / 36%"},
{"t":"2023-07-22T11:24","p":139.05,"s":"Prev: 1294 / 496 / 38%"},
{"t":"2023-07-22T11:24","p":138.95,"s":"Past: 1293 / 301 / 23%"},
{"t":"2023-07-22T11:24","p":138.86,"s":"Last: 1292 / 610 / 39%"},
{"t":"2023-07-22T11:24","p":138.76,"s":"V ( M1 ): 2.2 / 2.1 / 6.3"}
],
"bt":[
{"a":"2023-07-19T11:06","b":"2023-07-19T12:40","m":"2023-07-19T11:53","s":"MTF","k":"grey"},
{"a":"2023-07-19T12:47","b":"2023-07-19T16:02","m":"2023-07-19T14:25","s":"HA M15","k":"red"},
{"a":"2023-07-20T05:56","b":"2023-07-20T09:04","m":"2023-07-20T07:30","s":"FIBS ON","k":"red"},
{"a":"2023-07-20T09:11","b":"2023-07-20T12:59","m":"2023-07-20T11:05","s":"Broker","k":"blue"},
{"a":"2023-07-20T13:00","b":"2023-07-20T16:08","m":"2023-07-20T14:34","s":"Daily","k":"red"},
{"a":"2023-07-20T16:15","b":"2023-07-20T17:15","m":"2023-07-20T16:45","s":"AE","k":"red"},
{"a":"2023-07-20T17:22","b":"2023-07-20T19:10","m":"2023-07-20T18:16","s":"G70","k":"dark"},
{"a":"2023-07-20T19:23","b":"2023-07-20T21:11","m":"2023-07-20T20:17","s":"ADR","k":"red"},
{"a":"2023-07-20T21:17","b":"2023-07-21T00:46","m":"2023-07-20T23:02","s":"s.Open","k":"red"},
{"a":"2023-07-21T00:53","b":"2023-07-21T04:28","m":"2023-07-21T02:40","s":"c.Pivot","k":"dark"},
{"a":"2023-07-21T04:35","b":"2023-07-21T05:55","m":"2023-07-21T05:15","s":"M1","k":"dark"},
{"a":"2023-07-21T14:26","b":"2023-07-21T18:08","m":"2023-07-21T16:17","s":"Broker","k":"blue"},
{"a":"2023-07-21T18:15","b":"2023-07-21T20:30","m":"2023-07-21T19:22","s":"Candle","k":"dark"},
{"a":"2023-07-21T20:36","b":"2023-07-21T22:18","m":"2023-07-21T21:27","s":"HB","k":"blue"},
{"a":"2023-07-21T22:24","b":"2023-07-22T00:12","m":"2023-07-21T23:18","s":"HidG","k":"dark"},
{"a":"2023-07-22T00:18","b":"2023-07-22T02:13","m":"2023-07-22T01:15","s":"s.Fix","k":"grey"}
],
"bb":[
{"a":"2023-07-18T21:46","b":"2023-07-18T23:26","m":"2023-07-18T22:36","s":"M15","k":"dark"},
{"a":"2023-07-18T23:33","b":"2023-07-19T01:21","m":"2023-07-19T00:27","s":"DELI","k":"red"},
{"a":"2023-07-19T01:21","b":"2023-07-19T04:02","m":"2023-07-19T02:42","s":"My.NET","k":"blue"},
{"a":"2023-07-19T04:02","b":"2023-07-19T07:31","m":"2023-07-19T05:46","s":"Close","k":"blue"},
{"a":"2023-07-19T07:31","b":"2023-07-19T09:12","m":"2023-07-19T08:21","s":"DCP","k":"grey"},
{"a":"2023-07-19T09:12","b":"2023-07-19T10:59","m":"2023-07-19T10:05","s":"14","k":"dark"},
{"a":"2023-07-19T10:59","b":"2023-07-19T12:54","m":"2023-07-19T11:56","s":"D1","k":"blue"},
{"a":"2023-07-19T12:54","b":"2023-07-19T16:15","m":"2023-07-19T14:35","s":"0.618 | 13","k":"blue"},
{"a":"2023-07-19T16:15","b":"2023-07-19T18:03","m":"2023-07-19T17:09","s":"SLP","k":"red"},
{"a":"2023-07-19T18:03","b":"2023-07-19T19:57","m":"2023-07-19T19:00","s":"VHF","k":"red"},
{"a":"2023-07-19T19:57","b":"2023-07-19T21:38","m":"2023-07-19T20:47","s":"S1","k":"blue"},
{"a":"2023-07-19T21:38","b":"2023-07-20T00:26","m":"2023-07-19T23:02","s":"T3 FM","k":"blue"},
{"a":"2023-07-20T00:26","b":"2023-07-20T03:08","m":"2023-07-20T01:47","s":"KAMA","k":"red"}
],
"bx":[
{"a":"2023-07-22T01:26","b":"2023-07-22T04:12","lo":140.78,"hi":140.882,"p":140.831,"s":"140.831","k":"teal"},
{"a":"2023-07-22T01:26","b":"2023-07-22T04:12","lo":139.26,"hi":139.362,"p":139.311,"s":"139.311","k":"dark"},
{"a":"2023-07-22T12:20","b":"2023-07-22T14:55","lo":141.79,"hi":141.88,"p":141.835,"s":"141.835","k":"bid"}
],
"am":[
{"g":1,"o":1,"t":"2023-07-19T16:56","p":139.05},
{"g":1,"o":2,"t":"2023-07-19T17:56","p":138.86},
{"g":1,"o":3,"t":"2023-07-19T18:30","p":138.69},
{"g":2,"o":1,"t":"2023-07-19T21:11","p":139.028},
{"g":2,"o":2,"t":"2023-07-19T20:24","p":138.938},
{"g":2,"o":3,"t":"2023-07-19T20:04","p":138.805},
{"g":2,"o":4,"t":"2023-07-19T20:24","p":138.69}
],
"amh":[{"t":"2023-07-19T18:30","p":138.69},{"t":"2023-07-19T20:24","p":138.69}],
"na":[
{"t":"2023-07-19T06:44","p":139.094,"s":"Vertical Horizontal Filter"},
{"t":"2023-07-19T21:18","p":139.039,"s":"SmoothStep function (S1, S2 , Auto)"}
],
"ttl":[{"t":"2023-07-20T11:52","p":141.089,"s":"v2v dynamic trading system"}],
"nl":[
{"t":"2023-07-18T22:32","p":-4.8,"s":"on-Slope and MBL color change"},
{"t":"2023-07-19T17:23","p":-74,"s":"T3 switch: Fulks-Matulich and Tim Tillson"},
{"t":"2023-07-20T06:50","p":73.3,"s":"Kaufman Adaptive Moving Average  (KAMA)"},
{"t":"2023-07-20T13:20","p":53.3,"s":"and Relative Moving Average (RMA)"}
],
"deli":[{"t":"2023-07-22T06:08","p":-4.8,"s":"DELI"}],
"cur":[{"t":"2023-07-21T23:30"}],
"al":[
{"g":1,"o":1,"t":"2023-07-19T12:00","p":-9.3},
{"g":1,"o":2,"t":"2023-07-19T14:00","p":6.4},
{"g":1,"o":3,"t":"2023-07-19T15:42","p":28.7},
{"g":1,"o":4,"t":"2023-07-19T16:42","p":62},
{"g":2,"o":1,"t":"2023-07-19T19:36","p":-60.6},
{"g":2,"o":2,"t":"2023-07-19T22:25","p":62},
{"g":3,"o":1,"t":"2023-07-20T06:36","p":73.3},
{"g":3,"o":2,"t":"2023-07-20T03:28","p":75}
],
"alh":[
{"t":"2023-07-19T16:42","p":62,"d":"up"},
{"t":"2023-07-19T22:25","p":62,"d":"up"},
{"t":"2023-07-20T03:28","p":75,"d":"left"}
]
},
"vconcat":[
{
"width":773,"height":309,
"resolve":{"scale":{"y":"independent","color":"independent"}},
"layer":[
{"data":{"name":"bars"},"mark":{"type":"bar","size":2.6},
 "encoding":{"x":{"field":"t","type":"temporal","scale":{"domain":[{"year":2023,"month":7,"date":18,"hours":21,"minutes":30},{"year":2023,"month":7,"date":22,"hours":12,"minutes":15}],"nice":false},"axis":null},
 "y":{"field":"v","type":"quantitative","scale":{"domain":[0,309],"nice":false},"axis":null},
 "color":{"condition":{"test":"datum.c >= datum.o","value":"#a4dede"},"value":"#d0a2a2"}}},
{"resolve":{"scale":{"color":"independent","strokeDash":"independent","strokeWidth":"independent","fill":"independent","stroke":"independent","shape":"independent"}},
 "layer":[
 {"data":{"name":"lv","format":{"parse":{"a":"date","b":"date"}}},"mark":{"type":"rule","strokeWidth":1.3},
  "encoding":{"x":{"field":"a","type":"temporal","scale":{"domain":[{"year":2023,"month":7,"date":18,"hours":21,"minutes":30},{"year":2023,"month":7,"date":22,"hours":12,"minutes":15}],"nice":false},"axis":null},
  "x2":{"field":"b"},
  "y":{"field":"p","type":"quantitative","scale":{"domain":[138.671,142.114],"nice":false,"zero":false},
   "axis":{"orient":"right","title":null,"values":[141.98,141.775,141.57,141.365,141.16,140.955,140.75,140.54,140.335,140.12,139.925,139.72,139.515,139.31,139.105,138.9,138.695],"labels":false,"tickSize":2}},
  "color":{"field":"k","type":"nominal","scale":{"domain":["g","r","s","sp","d"],"range":["#6c9c56","#a4ae8a","#bab4a0","#cc9484","#dcdccc"]}},
  "strokeDash":{"field":"k","type":"nominal","scale":{"domain":["g","r","s","sp","d"],"range":[[1,0],[1,0],[1,0],[1,0],[6,4]]}}}},
 {"data":{"name":"days"},"mark":{"type":"rule","strokeDash":[1,2],"color":"#a8a8a8","strokeWidth":1},
  "encoding":{"x":{"field":"t","type":"temporal","axis":null}}},
 {"data":{"name":"pax"},"mark":{"type":"text","align":"left","baseline":"middle","dx":2.5,"fontSize":5.8,"color":"#b8d6d6"},
  "encoding":{"x":{"field":"t","type":"temporal","axis":null},"y":{"field":"p","type":"quantitative"},"text":{"field":"p","type":"quantitative","format":".3f"}}},
 {"data":{"name":"lv","format":{"parse":{"a":"date"}}},"transform":[{"filter":"datum.n != ''"}],"mark":{"type":"text","align":"left","baseline":"bottom","dx":2,"dy":-0.5,"fontSize":6.2},
  "encoding":{"x":{"field":"a","type":"temporal","axis":null},"y":{"field":"p","type":"quantitative"},"text":{"field":"n"},
  "color":{"field":"k","type":"nominal","scale":{"domain":["g","r","s","sp","d"],"range":["#7cb060","#b4bc94","#c6bea6","#d29c8c","#cacab6"]}}}},
 {"data":{"name":"dl","format":{"parse":{"a":"date","b":"date"}}},"mark":{"type":"rule"},
  "encoding":{"x":{"field":"a","type":"temporal","axis":null},"x2":{"field":"b"},"y":{"field":"p","type":"quantitative"},
  "color":{"field":"k","type":"nominal","scale":{"domain":["td","yd","wd","od","bd","pd","gd","sd","rd","nd","ms","bs","ls","rs","os","ws"],"range":["#3ec4c4","#d4cc3c","#dedede","#e0902c","#3c7ce0","#d05ccc","#bcbcbc","#dc9c8c","#e0503c","#2c3c9c","#e040e0","#1c34dc","#4c94e8","#f0402c","#f0a41c","#f4f4f4"]}},
  "strokeDash":{"field":"k","type":"nominal","scale":{"domain":["td","yd","wd","od","bd","pd","gd","sd","rd","nd","ms","bs","ls","rs","os","ws"],"range":[[6,2,1,2],[6,2,1,2],[6,2,1,2],[1.5,2],[1.5,2],[1.5,2],[1.5,2],[1.5,2],[1.5,2],[4,2],[1,0],[1,0],[1,0],[1,0],[1,0],[1,0]]}},
  "strokeWidth":{"field":"k","type":"nominal","scale":{"type":"ordinal","domain":["td","yd","wd","od","bd","pd","gd","sd","rd","nd","ms","bs","ls","rs","os","ws"],"range":[1,1,1,1.2,1.2,1.2,1.2,1.2,1.2,1.2,2.2,2.6,2.2,1.8,2,2]}}}},
 {"data":{"name":"bid"},"mark":{"type":"rule","color":"#a6c8cc","strokeWidth":1},
  "encoding":{"y":{"field":"p","type":"quantitative"}}},
 {"data":{"name":"bars"},"mark":{"type":"rule","strokeWidth":1},
  "encoding":{"x":{"field":"t","type":"temporal","axis":null},"y":{"field":"lo","type":"quantitative"},"y2":{"field":"hi"},
  "color":{"condition":{"test":"datum.c >= datum.o","value":"#46acee"},"value":"#121212"}}},
 {"data":{"name":"bars"},"mark":{"type":"bar","size":3},
  "encoding":{"x":{"field":"t","type":"temporal","axis":null},"y":{"field":"o","type":"quantitative"},"y2":{"field":"c"},
  "color":{"condition":{"test":"datum.c >= datum.o","value":"#46acee"},"value":"#121212"}}},
 {"data":{"name":"tx"},"mark":{"type":"text","align":"left","baseline":"middle","fontSize":6.4},
  "encoding":{"x":{"field":"t","type":"temporal","axis":null},"y":{"field":"p","type":"quantitative"},"text":{"field":"s"},
  "color":{"field":"k","type":"nominal","scale":{"domain":["nv","wt","yw","gr","og"],"range":["#17275f","#ececec","#e8dc64","#8ccc6c","#f0b43c"]}}}},
 {"data":{"name":"st"},"mark":{"type":"text","align":"right","baseline":"middle","fontSize":7.6,"color":"#e8e8e8"},
  "encoding":{"x":{"field":"t","type":"temporal","axis":null},"y":{"field":"p","type":"quantitative"},"text":{"field":"s"}}},
 {"data":{"name":"bt","format":{"parse":{"a":"date","b":"date"}}},"mark":{"type":"rect","fill":"#ededed","stroke":"#8e8e8e","strokeWidth":0.6},
  "encoding":{"x":{"field":"a","type":"temporal","axis":null},"x2":{"field":"b"},"y":{"datum":142.108,"type":"quantitative"},"y2":{"datum":142.02}}},
 {"data":{"name":"bt","format":{"parse":{"m":"date"}}},"mark":{"type":"text","align":"center","baseline":"middle","fontSize":6.6},
  "encoding":{"x":{"field":"m","type":"temporal","axis":null},"y":{"datum":142.064,"type":"quantitative"},"text":{"field":"s"},
  "color":{"field":"k","type":"nominal","scale":{"domain":["red","blue","dark","grey"],"range":["#f01818","#1838f0","#202020","#8a8a8a"]}}}},
 {"data":{"name":"bx","format":{"parse":{"a":"date","b":"date"}}},"mark":{"type":"rect","strokeWidth":1},
  "encoding":{"x":{"field":"a","type":"temporal","axis":null},"x2":{"field":"b"},"y":{"field":"lo","type":"quantitative"},"y2":{"field":"hi"},
  "fill":{"field":"k","type":"nominal","scale":{"domain":["teal","dark","bid"],"range":["#5a6466","#2a2a2a","#b4e2e2"]}},
  "stroke":{"field":"k","type":"nominal","scale":{"domain":["teal","dark","bid"],"range":["#36c4d4","#8c8c8c","#b4e2e2"]}}}},
 {"data":{"name":"bx","format":{"parse":{"a":"date"}}},"mark":{"type":"text","align":"left","baseline":"middle","dx":1.5,"fontSize":6},
  "encoding":{"x":{"field":"a","type":"temporal","axis":null},"y":{"field":"p","type":"quantitative"},"text":{"field":"s"},
  "color":{"field":"k","type":"nominal","scale":{"domain":["teal","dark","bid"],"range":["#3cd4e4","#cfcfcf","#1c2c44"]}}}},
 {"data":{"name":"am"},"mark":{"type":"line","color":"#0c0c0c","strokeWidth":1.4,"interpolate":"monotone"},
  "encoding":{"x":{"field":"t","type":"temporal","axis":null},"y":{"field":"p","type":"quantitative"},"detail":{"field":"g"},"order":{"field":"o"}}},
 {"data":{"name":"amh"},"mark":{"type":"point","shape":"triangle-down","filled":true,"size":22,"color":"#0c0c0c","opacity":1},
  "encoding":{"x":{"field":"t","type":"temporal","axis":null},"y":{"field":"p","type":"quantitative"}}},
 {"data":{"name":"na"},"mark":{"type":"text","align":"left","baseline":"middle","fontSize":7.6,"fontWeight":"bold","color":"#f4f4f4"},
  "encoding":{"x":{"field":"t","type":"temporal","axis":null},"y":{"field":"p","type":"quantitative"},"text":{"field":"s"}}},
 {"data":{"name":"ttl"},"mark":{"type":"text","align":"center","baseline":"middle","fontSize":11.5,"fontWeight":"bold","color":"#3ed8ee"},
  "encoding":{"x":{"field":"t","type":"temporal","axis":null},"y":{"field":"p","type":"quantitative"},"text":{"field":"s"}}}
 ]}
]
},
{
"width":773,"height":83,
"resolve":{"scale":{"color":"independent","shape":"independent"}},
"layer":[
 {"data":{"name":"bars"},"mark":{"type":"line","strokeDash":[2,2],"strokeWidth":1,"color":"#d88878"},
  "encoding":{"x":{"field":"t","type":"temporal","scale":{"domain":[{"year":2023,"month":7,"date":18,"hours":21,"minutes":30},{"year":2023,"month":7,"date":22,"hours":12,"minutes":15}],"nice":false},
   "axis":{"orient":"bottom","title":null,"values":[{"year":2023,"month":7,"date":18,"hours":21,"minutes":30},{"year":2023,"month":7,"date":19,"hours":1},{"year":2023,"month":7,"date":19,"hours":5},{"year":2023,"month":7,"date":19,"hours":9},{"year":2023,"month":7,"date":19,"hours":13},{"year":2023,"month":7,"date":19,"hours":17},{"year":2023,"month":7,"date":19,"hours":21},{"year":2023,"month":7,"date":20,"hours":1},{"year":2023,"month":7,"date":20,"hours":5},{"year":2023,"month":7,"date":20,"hours":9},{"year":2023,"month":7,"date":20,"hours":13},{"year":2023,"month":7,"date":20,"hours":17},{"year":2023,"month":7,"date":20,"hours":21},{"year":2023,"month":7,"date":21,"hours":1},{"year":2023,"month":7,"date":21,"hours":5},{"year":2023,"month":7,"date":21,"hours":9},{"year":2023,"month":7,"date":21,"hours":13},{"year":2023,"month":7,"date":21,"hours":17},{"year":2023,"month":7,"date":21,"hours":21}],
   "labelExpr":"datum.value < datetime(2023,6,18,23,0) ? '18 Jul 2023' : timeFormat(datum.value, '%d %b %H:%M')",
   "labelAlign":"left","labelFontSize":5.6,"tickSize":3,"labelPadding":1,"labelOverlap":false,"labelFlush":false}},
  "y":{"field":"pk","type":"quantitative","scale":{"domain":[-100.796,84.51],"nice":false,"zero":false},
   "axis":{"orient":"right","title":null,"values":[84.51,0,-100.796],"labels":false,"tickSize":2}}}},
 {"data":{"name":"oax"},"transform":[{"filter":"datum.b == 'top'"}],"mark":{"type":"text","align":"left","baseline":"top","dx":2.5,"dy":0.5,"fontSize":5.8,"color":"#b8d6d6"},
  "encoding":{"x":{"field":"t","type":"temporal"},"y":{"field":"p","type":"quantitative"},"text":{"field":"s"}}},
 {"data":{"name":"oax"},"transform":[{"filter":"datum.b == 'middle'"}],"mark":{"type":"text","align":"left","baseline":"middle","dx":2.5,"fontSize":5.8,"color":"#b8d6d6"},
  "encoding":{"x":{"field":"t","type":"temporal"},"y":{"field":"p","type":"quantitative"},"text":{"field":"s"}}},
 {"data":{"name":"oax"},"transform":[{"filter":"datum.b == 'bottom'"}],"mark":{"type":"text","align":"left","baseline":"bottom","dx":1,"dy":-3,"fontSize":4.7,"color":"#b8d6d6"},
  "encoding":{"x":{"field":"t","type":"temporal"},"y":{"field":"p","type":"quantitative"},"text":{"field":"s"}}},
 {"data":{"name":"bars"},"mark":{"type":"line","strokeDash":[2,2],"strokeWidth":1,"color":"#c8b444"},
  "encoding":{"x":{"field":"t","type":"temporal"},"y":{"field":"yl","type":"quantitative"}}},
 {"data":{"name":"bars"},"mark":{"type":"line","strokeDash":[2,2],"strokeWidth":1,"color":"#3494c4"},
  "encoding":{"x":{"field":"t","type":"temporal"},"y":{"field":"bl","type":"quantitative"}}},
 {"data":{"name":"bars"},"mark":{"type":"line","strokeWidth":2.4,"color":"#161616"},
  "encoding":{"x":{"field":"t","type":"temporal"},"y":{"field":"k","type":"quantitative"}}},
 {"data":{"name":"bars"},"mark":{"type":"line","strokeWidth":2.4,"color":"#e6e6e6"},
  "encoding":{"x":{"field":"t","type":"temporal"},"y":{"field":"w","type":"quantitative"}}},
 {"data":{"name":"bars"},"mark":{"type":"line","strokeWidth":2.4,"color":"#761a86","invalid":"break-paths-filter-domains"},
  "encoding":{"x":{"field":"t","type":"temporal"},"y":{"field":"pu","type":"quantitative"}}},
 {"data":{"name":"cur"},"mark":{"type":"rule","strokeDash":[4,3],"color":"#8e8e8e","strokeWidth":1},
  "encoding":{"x":{"field":"t","type":"temporal"}}},
 {"data":{"name":"bb","format":{"parse":{"a":"date","b":"date"}}},"mark":{"type":"rect","fill":"#ededed","stroke":"#8e8e8e","strokeWidth":0.6},
  "encoding":{"x":{"field":"a","type":"temporal"},"x2":{"field":"b"},"y":{"datum":84.3,"type":"quantitative"},"y2":{"datum":66.5}}},
 {"data":{"name":"bb","format":{"parse":{"m":"date"}}},"mark":{"type":"text","align":"center","baseline":"middle","fontSize":6.6},
  "encoding":{"x":{"field":"m","type":"temporal"},"y":{"datum":75.4,"type":"quantitative"},"text":{"field":"s"},
  "color":{"field":"k","type":"nominal","scale":{"domain":["red","blue","dark","grey"],"range":["#f01818","#1838f0","#202020","#8a8a8a"]}}}},
 {"data":{"name":"nl"},"mark":{"type":"text","align":"left","baseline":"middle","fontSize":7.6,"fontWeight":"bold","color":"#f4f4f4"},
  "encoding":{"x":{"field":"t","type":"temporal"},"y":{"field":"p","type":"quantitative"},"text":{"field":"s"}}},
 {"data":{"name":"deli"},"mark":{"type":"text","align":"center","baseline":"middle","fontSize":14,"fontWeight":"bold","color":"#f6e66e"},
  "encoding":{"x":{"field":"t","type":"temporal"},"y":{"field":"p","type":"quantitative"},"text":{"field":"s"}}},
 {"data":{"name":"al"},"mark":{"type":"line","color":"#0c0c0c","strokeWidth":1.4,"interpolate":"monotone"},
  "encoding":{"x":{"field":"t","type":"temporal"},"y":{"field":"p","type":"quantitative"},"detail":{"field":"g"},"order":{"field":"o"}}},
 {"data":{"name":"alh"},"mark":{"type":"point","filled":true,"size":22,"color":"#0c0c0c","opacity":1},
  "encoding":{"x":{"field":"t","type":"temporal"},"y":{"field":"p","type":"quantitative"},
  "shape":{"field":"d","type":"nominal","scale":{"domain":["up","left"],"range":["triangle-up","triangle-left"]}}}}
]
}
]
}
